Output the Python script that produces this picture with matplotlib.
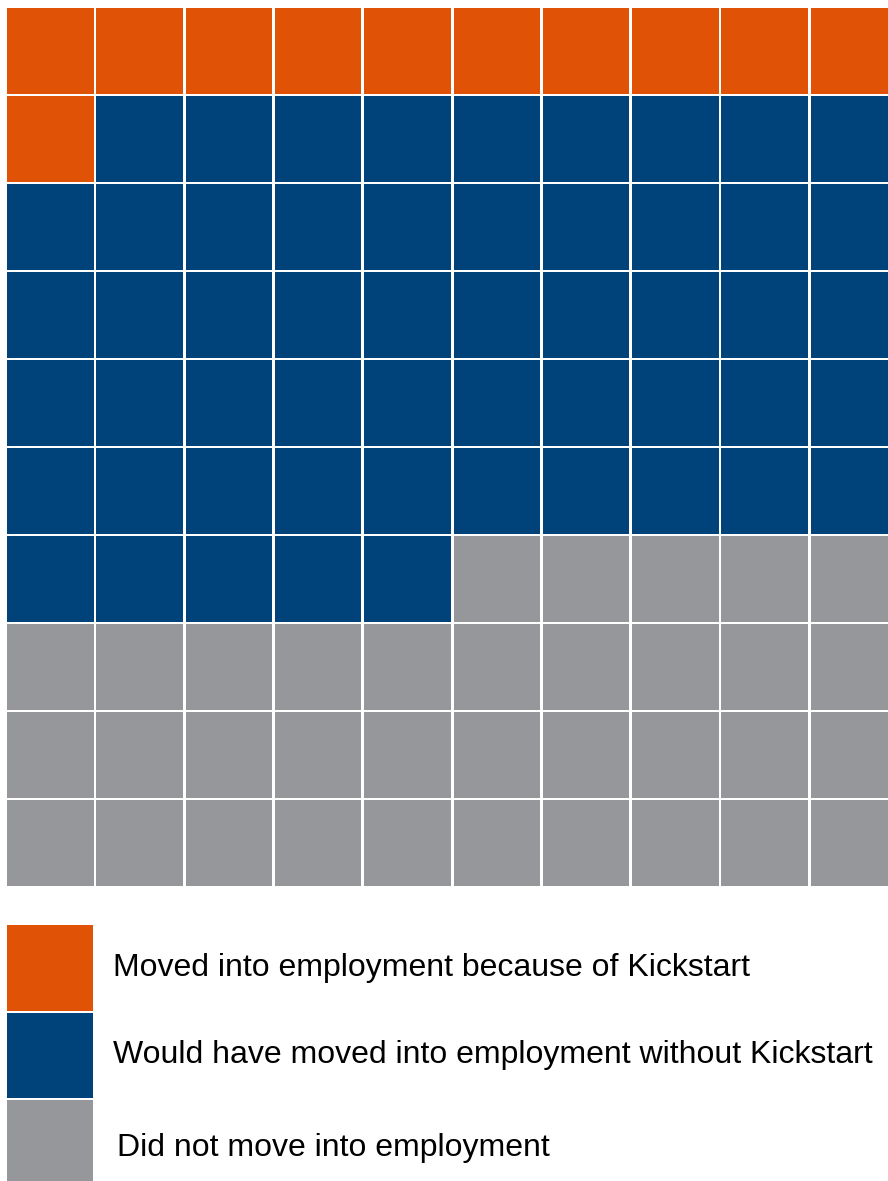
import matplotlib
matplotlib.use("Agg")
import matplotlib.pyplot as plt
from matplotlib.patches import Rectangle

categories = ["Moved into employment because of Kickstart",
              "Would have moved into employment without Kickstart",
              "Did not move into employment"]
counts = [11, 54, 35]
colors = ["#E05206", "#00437B", "#96979B"]

n_cols, n_rows = 10, 10

fig = plt.figure(figsize=(8.88, 11.81), dpi=100)
ax = fig.add_axes([0, 0, 1, 1])
ax.set_xlim(0, 888)
ax.set_ylim(1181, 0)
ax.axis("off")

# waffle grid (row-major fill)
cell_colors = []
for cnt, col in zip(counts, colors):
    cell_colors += [col] * cnt

x0, y0 = 7, 8
px, py = 89.3, 88.0
w, h = 86.5, 85.5
for idx, col in enumerate(cell_colors):
    r, c = divmod(idx, n_cols)
    ax.add_patch(Rectangle((x0 + c * px, y0 + r * py), w, h,
                           facecolor=col, edgecolor="none"))

# legend
leg_y = [925, 1012.5, 1100]
text_x = [113, 113, 117]
text_y = [976, 1063, 1156]
for cat, col, ly, tx, ty in zip(categories, colors, leg_y, text_x, text_y):
    ax.add_patch(Rectangle((7, ly), 86, 85.5, facecolor=col, edgecolor="none"))
    ax.text(tx, ty, cat, fontsize=23, family="Liberation Sans",
            va="baseline", ha="left", color="black")

fig.savefig("out.png", dpi=100)
